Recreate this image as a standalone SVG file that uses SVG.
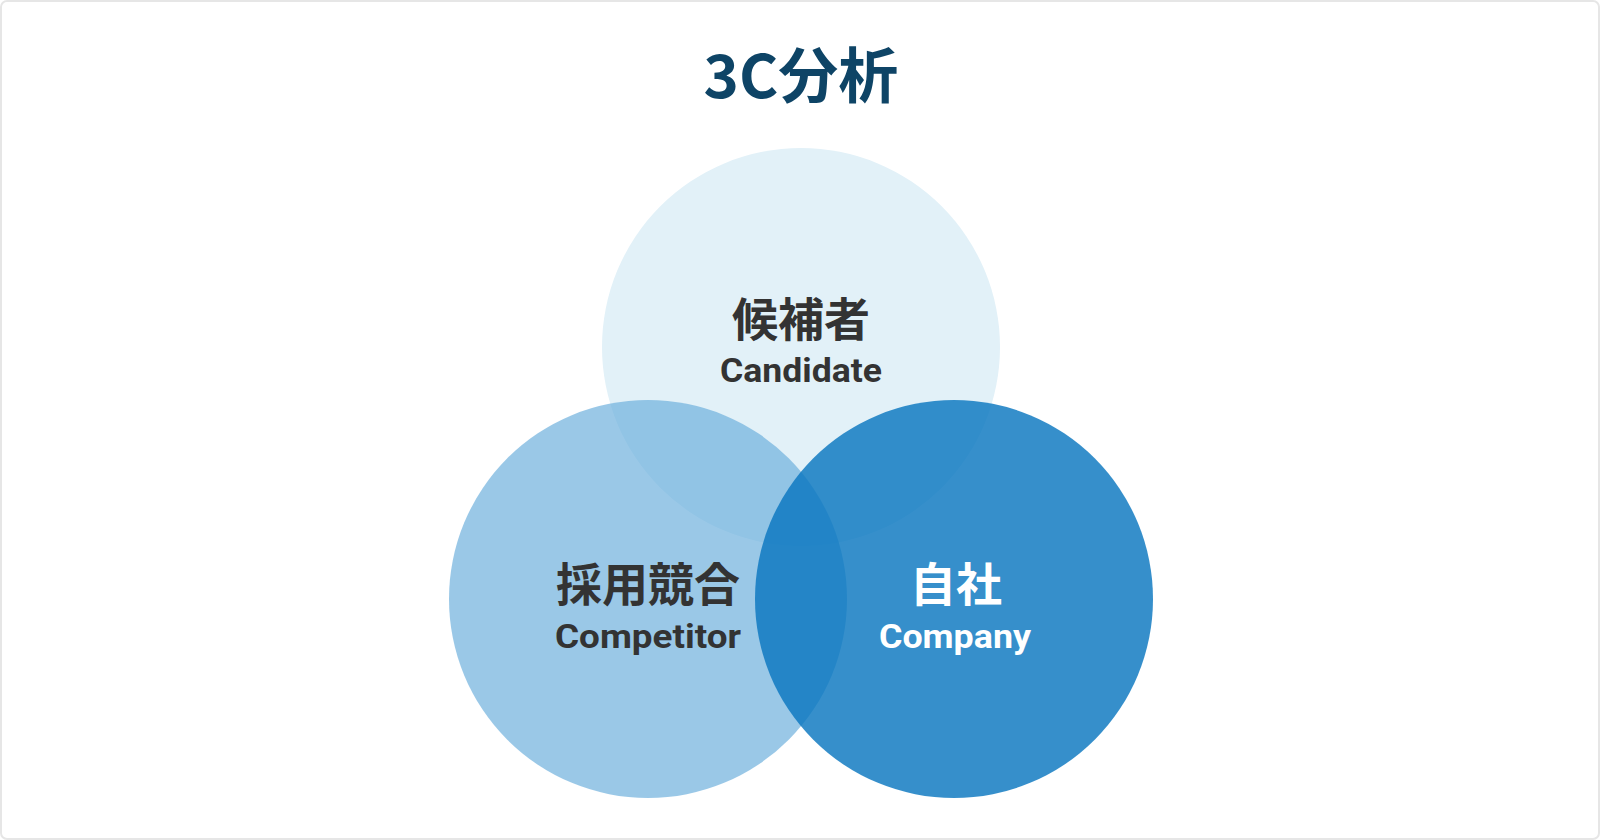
<svg xmlns="http://www.w3.org/2000/svg" width="1600" height="840" viewBox="0 0 1600 840">
<style>
.jp{font-family:"Noto Sans CJK JP","Noto Sans",sans-serif;font-weight:700;text-anchor:middle}
.en{font-family:Roboto,"Liberation Sans",sans-serif;font-weight:700;text-anchor:middle;font-size:34px}
</style>
<rect x="1" y="1" width="1598" height="838" rx="6" fill="#fff" stroke="#e6e6e6" stroke-width="2"/>
<text class="jp" x="801" y="98" font-size="60" fill="#0e4466">3C分析</text>
<g id="candidate"><circle cx="801" cy="347" r="199" fill="#e2f1f8"/></g>
<g id="competitor"><circle cx="648" cy="599" r="199" fill="#6aaedb" fill-opacity="0.68"/></g>
<g id="company"><circle cx="954" cy="599" r="199" fill="#0a76c0" fill-opacity="0.82"/></g>
<g id="labels">
<text class="jp" x="801" y="336" font-size="46" fill="#333">候補者</text>
<text class="en" x="801" y="382" fill="#333" textLength="162" lengthAdjust="spacingAndGlyphs">Candidate</text>
<text class="jp" x="648" y="601" font-size="46" fill="#333">採用競合</text>
<text class="en" x="648" y="648" fill="#333" textLength="186" lengthAdjust="spacingAndGlyphs">Competitor</text>
<text class="jp" x="956" y="601" font-size="46" fill="#fff">自社</text>
<text class="en" x="955" y="648" fill="#fff" textLength="152" lengthAdjust="spacingAndGlyphs">Company</text>
</g>
<g id="connectors"/>
</svg>
